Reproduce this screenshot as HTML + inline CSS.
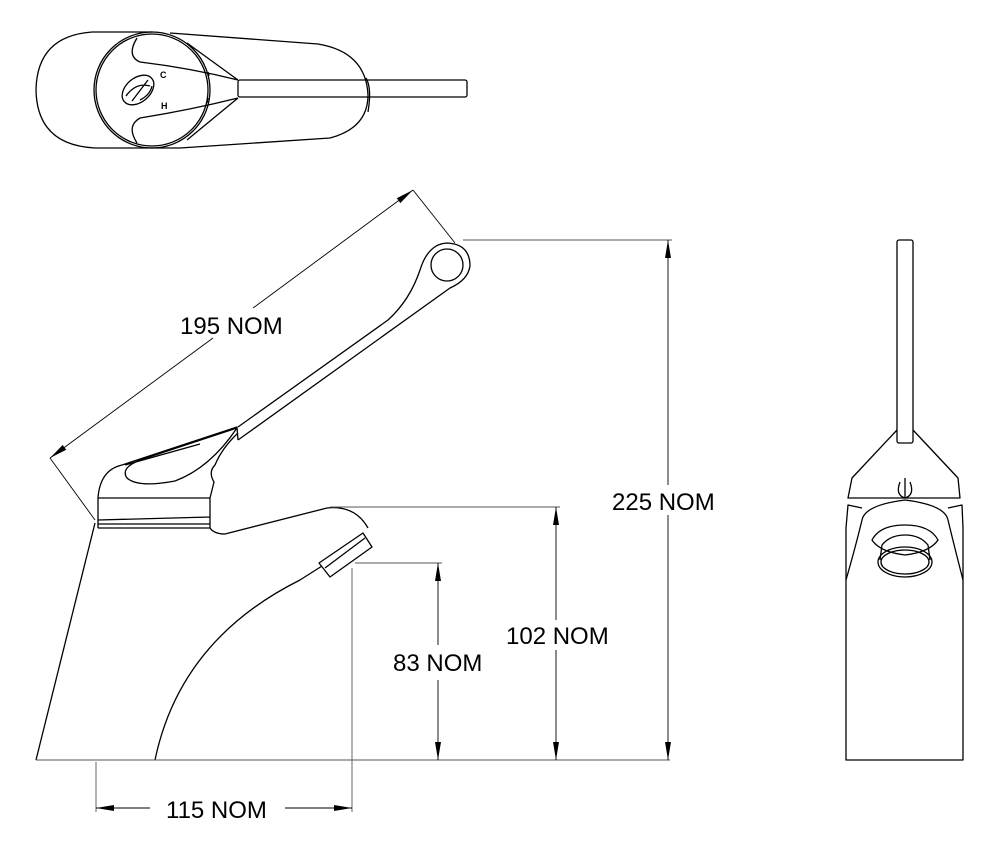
<!DOCTYPE html>
<html><head><meta charset="utf-8"><style>
html,body{margin:0;padding:0;background:#fff;width:1000px;height:847px;overflow:hidden}
text{font-family:"Liberation Sans",Arial,sans-serif;font-size:24px;fill:#000}
</style></head><body>
<svg width="1000" height="847" viewBox="0 0 1000 847" xmlns="http://www.w3.org/2000/svg">
<defs>
<marker id="a" viewBox="0 0 10 10" refX="10" refY="5" markerWidth="18" markerHeight="6" markerUnits="userSpaceOnUse" orient="auto-start-reverse" preserveAspectRatio="none"><path d="M0,0 L10,5 L0,10 z" fill="#000"/></marker>
</defs>
<g fill="none" stroke="#000" stroke-width="1.3" stroke-linejoin="round">
<!-- TOP VIEW -->
<path d="M152,32 L92,32 Q37,36 36,90 Q37,145 95,148 L180,148 L330,138 Q368,128 368,95 Q366,52 318,44 L170,33"/>
<circle cx="152" cy="90" r="58"/>
<circle cx="152" cy="90" r="56"/>
<path d="M238,80 L187,43 M238,80 Q190,68 140,62 Q126,56 137,38"/>
<path d="M238,98 L187,140 M238,98 Q190,110 140,118 Q126,126 137,143"/>
<ellipse cx="138" cy="90" rx="18" ry="12" transform="rotate(-40 138 90)"/>
<path d="M126,96 Q136,82 150,86 M132,101 L148,80 M140,100 Q150,95 152,86"/>
<rect x="238" y="80" width="229" height="17" rx="2"/>
<path d="M366,78 Q372,88 368,112"/>
<path d="M208,72 L209,76 M208,98 L207,103"/>
<!-- SIDE VIEW -->
<path d="M36,760 L95,523"/>
<path d="M155,760 Q180,640 300,580 L322,566"/>
<path d="M319,563 L330,577 L372,547 L363,533 Z"/>
<path d="M325,568 L365,538"/>
<path d="M210,528 Q214,534 225,534 L327,508 Q355,505 368,528"/>
<path d="M98,528 L210,528 M98,524 L210,524 M98,520 L210,517 M98,498 L210,498 M98,498 L98,528 M210,498 L210,528"/>
<path d="M98,498 Q100,470 122,465 L237,427 L238,440"/>
<path d="M238,433 Q222,448 215,465 Q208,472 214,482 Q212,490 210,498"/>
<path d="M237,428 L140,460 Q120,468 127,478 Q138,488 175,481 Q210,468 237,428"/>
<path d="M125,465 L200,444"/>
<path d="M238,427 L388,320 Q410,300 420,270 Q428,244 447,243 Q470,244 470,266 Q468,280 450,288 L238,440"/>
<circle cx="447" cy="265" r="16"/>
<!-- END VIEW -->
<rect x="897" y="240" width="16" height="203" rx="2"/>
<path d="M897,430 L852,478 L848,498 L960,498 L958,478 L913,430"/>
<path d="M900,482 Q895,495 905,498 Q915,495 910,482 M905,478 L905,498"/>
<path d="M846,528 L846,760 L963,760 L963,528"/>
<path d="M846,528 L848,505 L862,508 M963,528 L962,505 L948,508"/>
<path d="M846,580 Q856,545 862,520 Q865,505 905,500 Q945,505 948,520 Q954,545 963,580"/>
<path d="M872,540 Q880,525 905,525 Q930,525 938,540 Q930,552 905,555 Q880,552 872,540 Z"/>
<ellipse cx="905" cy="562" rx="27" ry="15"/>
<ellipse cx="905" cy="562" rx="24" ry="12"/>
<path d="M880,560 L882,545 Q890,535 905,535 Q920,535 928,545 L930,560"/>
</g>
<!-- DIMENSIONS -->
<g fill="none" stroke="#000" stroke-width="0.9">
<path d="M36,760 L670,760" stroke="#555"/>
<path d="M50,458 L95,520 M413,190 L455,243"/>
<path d="M213,338 L50,458" marker-end="url(#a)"/>
<path d="M253,308 L413,190" marker-end="url(#a)"/>
<path d="M463,240 L672,240 M330,507 L560,507 M355,563 L442,563" stroke="#555"/>
<path d="M668,485 L668,240" marker-end="url(#a)"/>
<path d="M668,515 L668,760" marker-end="url(#a)"/>
<path d="M556,620 L556,507" marker-end="url(#a)"/>
<path d="M556,650 L556,760" marker-end="url(#a)"/>
<path d="M438,645 L438,563" marker-end="url(#a)"/>
<path d="M438,680 L438,760" marker-end="url(#a)"/>
<path d="M96,762 L96,812 M352,568 L352,812" stroke="#555"/>
<path d="M150,808 L96,808" marker-end="url(#a)"/>
<path d="M285,808 L352,808" marker-end="url(#a)"/>
</g>
<text x="180" y="334">195 NOM</text>
<text x="612" y="510">225 NOM</text>
<text x="506" y="644">102 NOM</text>
<text x="393" y="671">83 NOM</text>
<text x="166" y="818">115 NOM</text>
<text x="160" y="78" style="font-size:9px;font-weight:bold">C</text>
<text x="161" y="109" style="font-size:9px;font-weight:bold">H</text>
</svg>
</body></html>
